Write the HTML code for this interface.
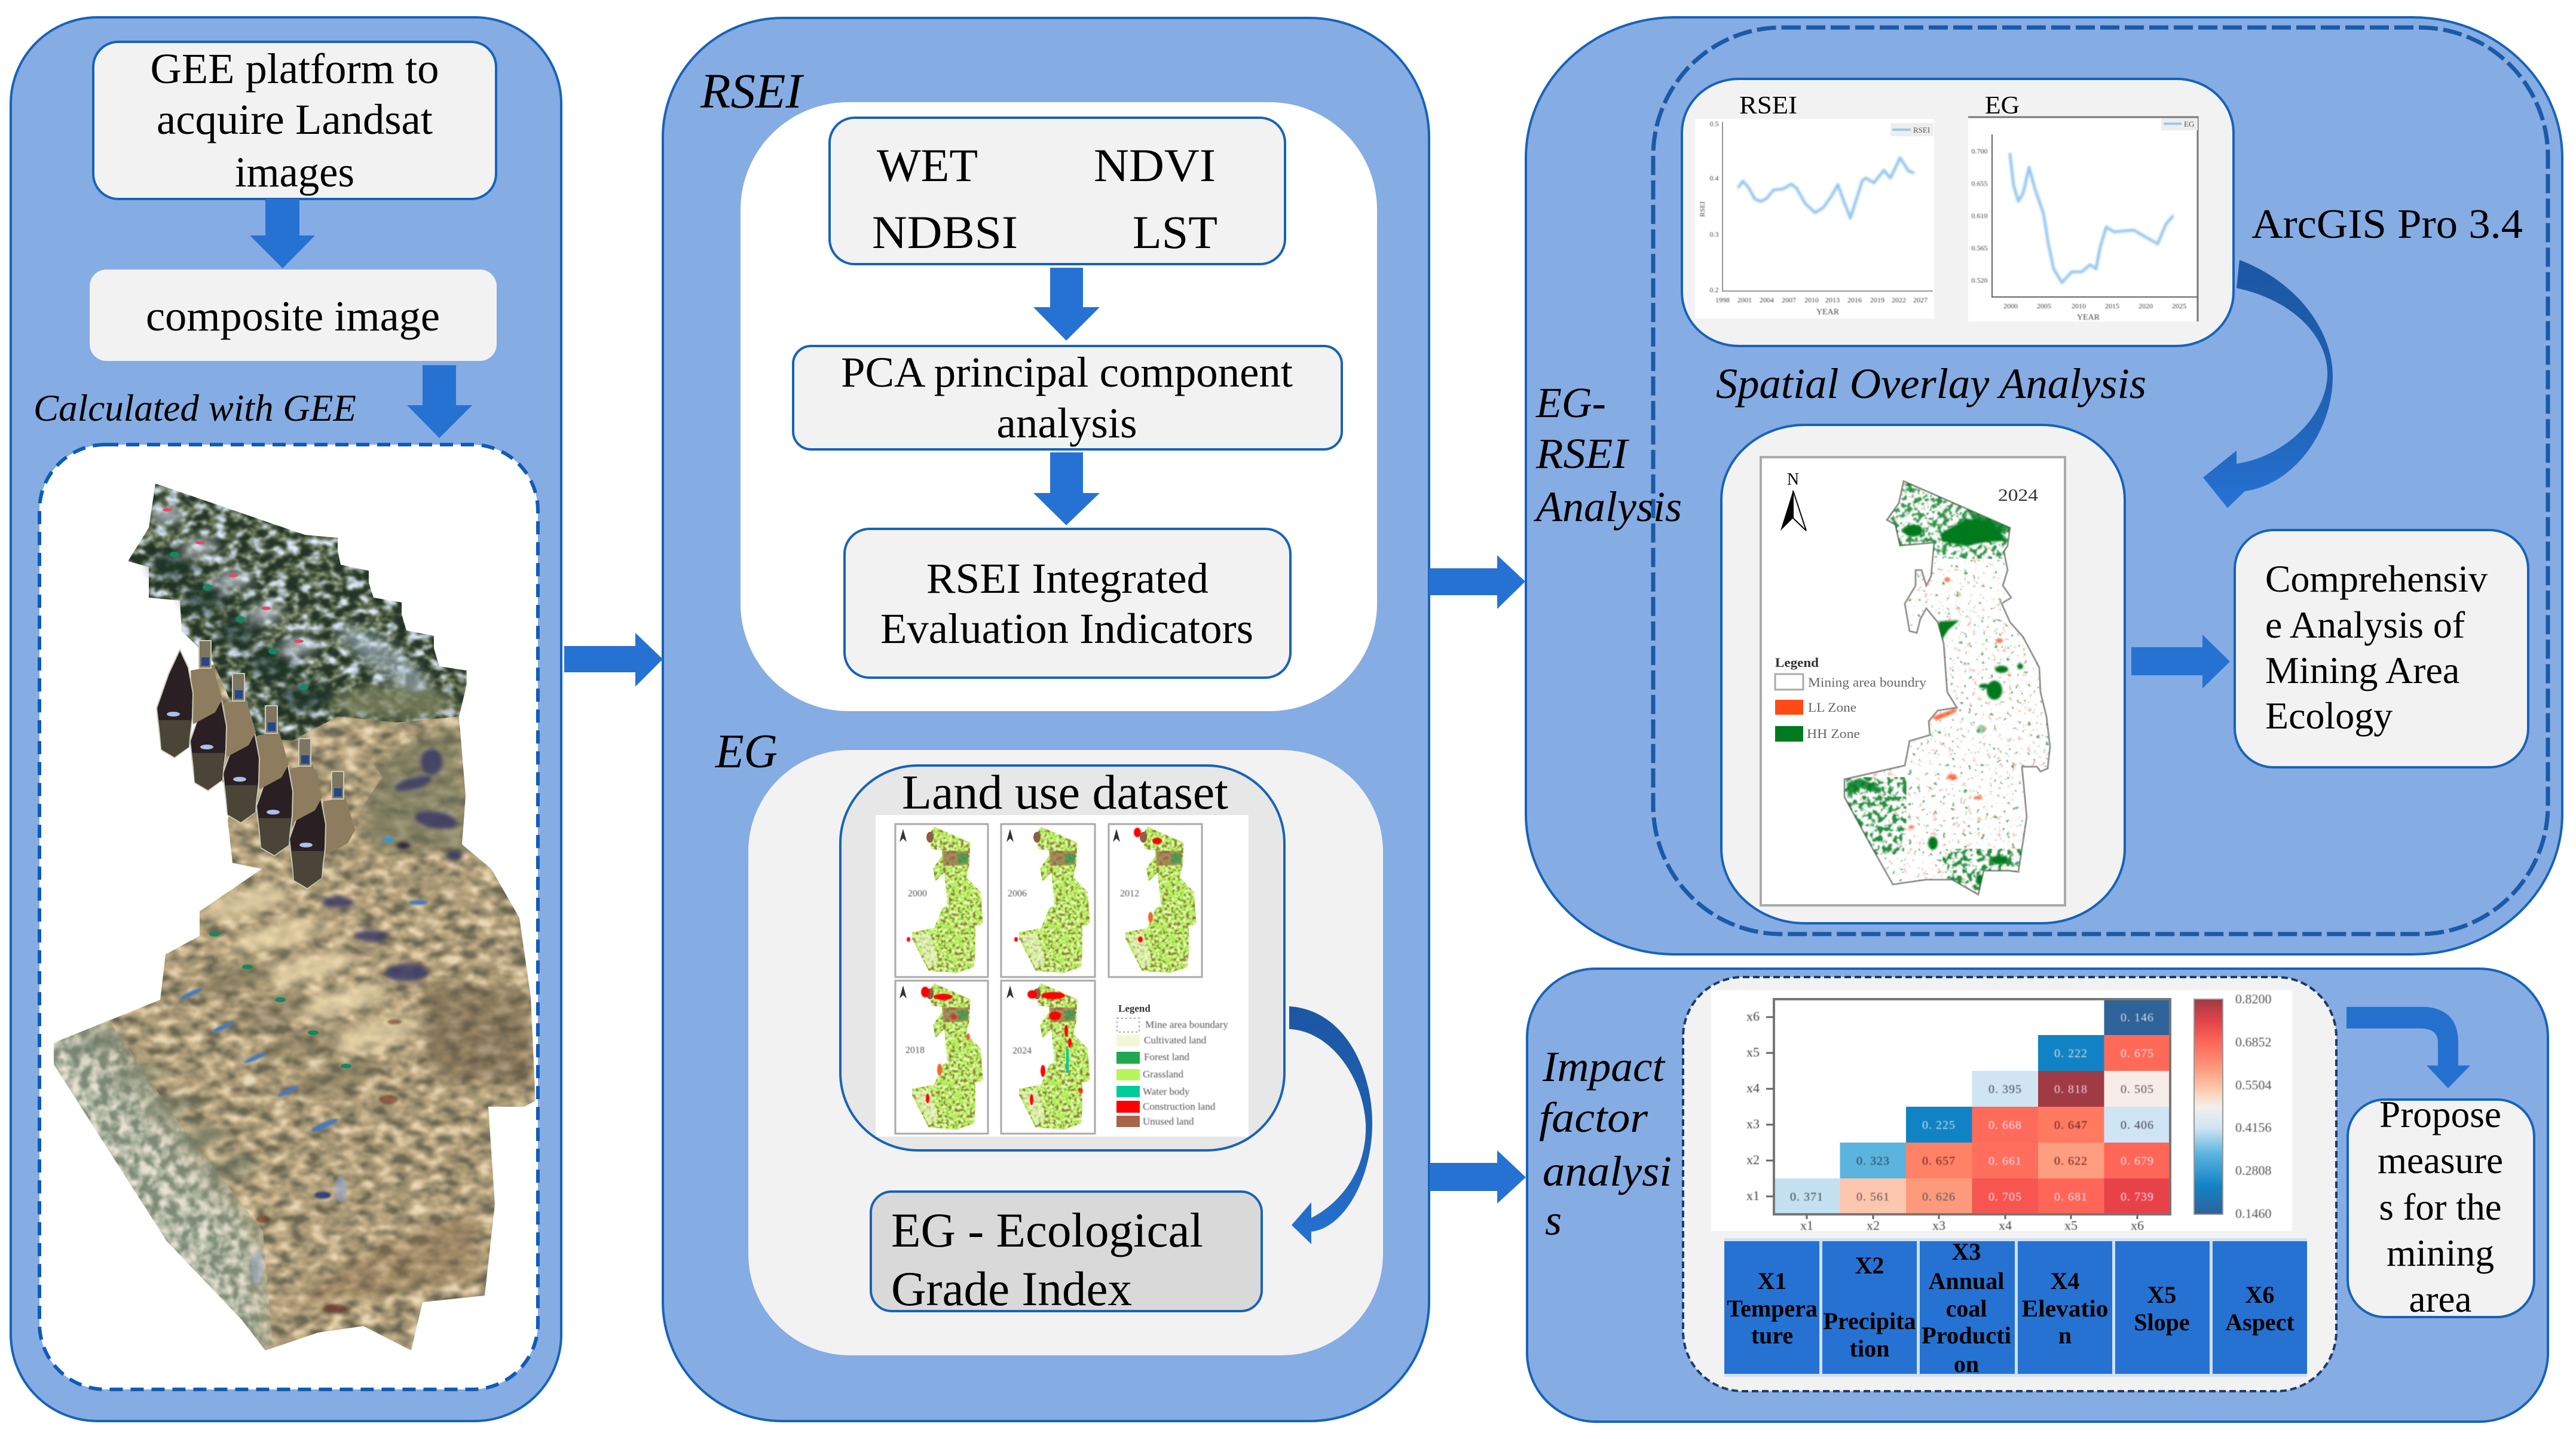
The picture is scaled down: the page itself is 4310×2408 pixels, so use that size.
<!DOCTYPE html>
<html><head><meta charset="utf-8"><title>Workflow diagram</title>
<style>
html,body{margin:0;padding:0;background:#fff}
svg{display:block}
text{font-family:"Liberation Serif","Times New Roman",serif;fill:#000}
.i{font-style:italic}
.m{text-anchor:middle}
.cell{font-size:20px;text-anchor:middle;letter-spacing:1px}
.tb{font-size:40px;font-weight:bold;text-anchor:middle}
</style></head><body>
<svg xmlns="http://www.w3.org/2000/svg" width="4310" height="2408" viewBox="0 0 4310 2408">
<defs>
<linearGradient id="g1" x1="0" y1="0" x2="0" y2="1"><stop offset="0" stop-color="#1c57a3"/><stop offset=".5" stop-color="#1f5fb0"/><stop offset="1" stop-color="#2672d2"/></linearGradient>
<linearGradient id="cb" x1="0" y1="0" x2="0" y2="1">
<stop offset="0" stop-color="#a03a45"/><stop offset=".1" stop-color="#e0444a"/><stop offset=".2" stop-color="#ff6658"/><stop offset=".33" stop-color="#fe9d80"/><stop offset=".43" stop-color="#fdd0b5"/><stop offset=".5" stop-color="#f4efec"/><stop offset=".6" stop-color="#cfe4f4"/><stop offset=".72" stop-color="#5bb4de"/><stop offset=".87" stop-color="#1183c4"/><stop offset="1" stop-color="#2f6298"/></linearGradient>

<filter id="tan" x="0" y="0" width="100%" height="100%" color-interpolation-filters="sRGB">
<feTurbulence type="fractalNoise" baseFrequency=".035 .06" numOctaves="4" seed="7"/>
<feColorMatrix type="matrix" values="1 0 0 0 0 1 0 0 0 0 1 0 0 0 0 0 0 0 0 1"/>
<feComponentTransfer>
<feFuncR type="discrete" tableValues=".42 .42 .42 .42 .42 .5 .58 .64 .7 .76 .82 .88 .92 .92 .92 .92"/>
<feFuncG type="discrete" tableValues=".4 .4 .4 .4 .4 .47 .54 .58 .63 .68 .74 .8 .86 .86 .86 .86"/>
<feFuncB type="discrete" tableValues=".32 .32 .32 .32 .32 .37 .43 .45 .48 .53 .59 .66 .74 .74 .74 .74"/>
</feComponentTransfer>
<feGaussianBlur stdDeviation="2.2"/>
<feComposite in2="SourceAlpha" operator="in"/>
</filter>
<filter id="dark" x="0" y="0" width="100%" height="100%" color-interpolation-filters="sRGB">
<feTurbulence type="fractalNoise" baseFrequency=".05 .07" numOctaves="4" seed="11"/>
<feColorMatrix type="matrix" values="1 0 0 0 0 1 0 0 0 0 1 0 0 0 0 0 0 0 0 1"/>
<feComponentTransfer>
<feFuncR type="discrete" tableValues=".14 .14 .14 .14 .14 .14 .18 .27 .42 .55 .65 .8 .91 .91 .91 .91"/>
<feFuncG type="discrete" tableValues=".2 .2 .2 .2 .2 .2 .25 .34 .46 .6 .73 .85 .93 .93 .93 .93"/>
<feFuncB type="discrete" tableValues=".16 .16 .16 .16 .16 .16 .19 .25 .34 .5 .82 .92 .97 .97 .97 .97"/>
</feComponentTransfer>
<feGaussianBlur stdDeviation="1.6"/>
<feComposite in2="SourceAlpha" operator="in"/>
</filter>
<filter id="gray" x="0" y="0" width="100%" height="100%" color-interpolation-filters="sRGB">
<feTurbulence type="fractalNoise" baseFrequency=".06" numOctaves="4" seed="3"/>
<feColorMatrix type="matrix" values="1 0 0 0 0 1 0 0 0 0 1 0 0 0 0 0 0 0 0 1"/>
<feComponentTransfer>
<feFuncR type="discrete" tableValues=".5 .5 .5 .5 .5 .5 .56 .64 .71 .78 .85 .91 .91 .91 .91 .91"/>
<feFuncG type="discrete" tableValues=".54 .54 .54 .54 .54 .54 .61 .68 .74 .78 .84 .89 .89 .89 .89 .89"/>
<feFuncB type="discrete" tableValues=".47 .47 .47 .47 .47 .47 .53 .6 .66 .71 .77 .83 .83 .83 .83 .83"/>
</feComponentTransfer>
<feGaussianBlur stdDeviation="1.6"/>
<feComposite in2="SourceAlpha" operator="in" result="t"/>
<feGaussianBlur in="SourceAlpha" stdDeviation="32" result="s"/>
<feComposite in="t" in2="s" operator="in"/>
</filter>
<filter id="soft" x="-30%" y="-30%" width="160%" height="160%"><feGaussianBlur stdDeviation="9"/></filter>
<filter id="soft3" x="-30%" y="-30%" width="160%" height="160%"><feGaussianBlur stdDeviation="3.5"/></filter>
<filter id="soft2" x="-30%" y="-30%" width="160%" height="160%"><feGaussianBlur stdDeviation="1.5"/></filter>
<filter id="txt" x="-5%" y="-5%" width="110%" height="110%"><feGaussianBlur stdDeviation=".7"/></filter>
<filter id="lu" x="0" y="0" width="100%" height="100%" color-interpolation-filters="sRGB">
<feTurbulence type="fractalNoise" baseFrequency=".2" numOctaves="2" seed="5"/>
<feColorMatrix type="matrix" values="1 0 0 0 0 1 0 0 0 0 1 0 0 0 0 0 0 0 0 1"/>
<feComponentTransfer>
<feFuncR type="discrete" tableValues=".63 .63 .63 .63 .63 .63 .56 .71 .71 .77 .92 .96 .96 .96 .96 .96"/>
<feFuncG type="discrete" tableValues=".45 .45 .45 .45 .45 .45 .82 .94 .94 .94 .96 .96 .96 .96 .96 .96"/>
<feFuncB type="discrete" tableValues=".28 .28 .28 .28 .28 .28 .31 .36 .36 .44 .75 .86 .86 .86 .86 .86"/>
</feComponentTransfer>
<feGaussianBlur stdDeviation=".7"/>
<feComposite in2="SourceAlpha" operator="in"/>
</filter>
<filter id="gs" x="0" y="0" width="100%" height="100%" color-interpolation-filters="sRGB">
<feTurbulence type="fractalNoise" baseFrequency=".14" numOctaves="2" seed="21"/>
<feColorMatrix type="matrix" values="0 0 0 0 0 0 0 0 0 .48 0 0 0 0 .12 10 0 0 0 -6.6"/>
<feGaussianBlur stdDeviation=".9"/>
</filter>
<filter id="gd" x="0" y="0" width="100%" height="100%" color-interpolation-filters="sRGB">
<feTurbulence type="fractalNoise" baseFrequency=".12" numOctaves="2" seed="9"/>
<feColorMatrix type="matrix" values="0 0 0 0 0 0 0 0 0 .48 0 0 0 0 .12 10 0 0 0 -5"/>
<feGaussianBlur stdDeviation="1"/>
</filter>
<filter id="rs" x="0" y="0" width="100%" height="100%" color-interpolation-filters="sRGB">
<feTurbulence type="fractalNoise" baseFrequency=".12" numOctaves="2" seed="33"/>
<feColorMatrix type="matrix" values="0 0 0 0 1 0 0 0 0 .42 0 0 0 0 .31 10 0 0 0 -6.6"/>
<feGaussianBlur stdDeviation=".9"/>
</filter>
<clipPath id="cm"><path d="M3185,805L3363,883L3359,913L3353,923L3359,954L3351,980L3365,1000L3349,1010L3363,1041L3385,1066L3412,1117L3414,1158L3424,1199L3430,1250L3426,1286L3414,1291L3408,1283L3383,1283L3391,1367L3377,1459L3361,1457L3319,1457L3310,1497L3266,1472L3223,1472L3167,1480L3132,1418L3086,1334L3086,1304L3187,1281L3195,1240L3229,1230L3227,1207L3242,1189L3274,1184L3258,1158L3252,1077L3242,1041L3223,1018L3213,1036L3207,1059L3195,1056L3187,1010L3205,980L3205,954L3215,954L3223,980L3231,964L3236,908L3179,913L3171,878L3157,870L3177,842Z"/></clipPath>
<clipPath id="sil"><path d="M781,1128L768,1199L779,1332L773,1413L822,1454L869,1536L888,1668L896,1842L877,1852L817,1852L828,2015L811,2168L707,2179L688,2260L608,2219L532,2230L444,2260L405,2209L279,2077L90,1781L90,1745L268,1673L277,1597L334,1566L334,1525L438,1454L389,1444L381,1372L420,1240L600,1160Z"/></clipPath>
<g id="lumap">
<path filter="url(#lu)" fill="#000" d="M64,4L126,31L124,67L119,89L143,114L147,167L134,171L134,214L132,239L104,249L56,246L28,192L28,181L65,174L78,142L87,135L82,81L67,96L63,74L78,53L78,44L61,42L54,24Z"/>
<path d="M79,45L123,45L122,68L80,70Z" fill="#94604a" opacity=".7" filter="url(#txt)"/>
<path d="M105,50L122,50L121,64L106,66Z" fill="#1fa84f" opacity=".6" filter="url(#txt)"/>
<path d="M30,188L58,182L72,228L58,243Z" fill="#f3f5d8" opacity=".55" filter="url(#txt)"/>
<ellipse cx="58" cy="22" rx="6" ry="9" fill="#8d5d44"/>
<path d="M7,30L13,8L19,30L13,24Z" fill="#333"/>
</g>
<g id="lobe">
<path d="M319,1122L356,1115L372,1170L360,1192L323,1212Z" fill="#8d7d5e"/>
<rect x="333" y="1072" width="20" height="46" fill="#7d7660" stroke="#c9c9b8" stroke-width="2"/>
<rect x="337" y="1100" width="13" height="14" fill="#26468a"/>
<path d="M301,1087L315,1117L323,1160L322,1200L316,1250L292,1268L270,1255L262,1185L282,1128Z" fill="#2a1f22" stroke="#c9c9b8" stroke-width="2"/>
<path d="M266,1205L319,1205L316,1250L292,1267L270,1254Z" fill="#4a4536"/>
<ellipse cx="290" cy="1195" rx="11" ry="4" fill="#aac0e8"/>
</g>
</defs>
<rect width="4310" height="2408" fill="#fff"/>

<!-- Panels -->
<rect x="18" y="29" width="921" height="2349" rx="145" ry="145" fill="#85ace3" stroke="#1763b8" stroke-width="4"/>
<rect x="1109" y="30" width="1282" height="2348" rx="200" ry="200" fill="#85ace3" stroke="#1763b8" stroke-width="4"/>
<rect x="2553" y="29" width="1734" height="1568" rx="250" ry="235" fill="#85ace3" stroke="#1763b8" stroke-width="4"/>
<rect x="2555" y="1621" width="1708" height="758" rx="115" ry="115" fill="#85ace3" stroke="#1763b8" stroke-width="4"/>

<!-- Panel 1 -->
<rect x="156" y="70" width="674" height="263" rx="42" fill="#f2f2f2" stroke="#1763b8" stroke-width="4"/>
<text x="493" y="139" class="m" font-size="72" textLength="483" lengthAdjust="spacingAndGlyphs">GEE platform to</text>
<text x="493" y="224" class="m" font-size="72" textLength="462" lengthAdjust="spacingAndGlyphs">acquire Landsat</text>
<text x="493" y="312" class="m" font-size="72" textLength="200" lengthAdjust="spacingAndGlyphs">images</text>
<polygon points="444,333 501,333 501,394 527,394 473,449 418,394 444,394" fill="#2672d2"/>
<rect x="150" y="451" width="681" height="153" rx="28" fill="#f2f2f2"/>
<text x="490" y="553" class="m" font-size="72" textLength="492" lengthAdjust="spacingAndGlyphs">composite image</text>
<polygon points="707,611 763,611 763,678 790,678 735,733 681,678 707,678" fill="#2672d2"/>
<text x="56" y="704" class="i" font-size="63" textLength="540" lengthAdjust="spacingAndGlyphs">Calculated with GEE</text>
<rect x="66" y="744" width="834" height="1581" rx="110" ry="110" fill="#fff" stroke="#0f5cb4" stroke-width="6" stroke-dasharray="22 13"/>

<!-- Satellite stack -->
<path filter="url(#tan)" fill="#000" d="M781,1128L768,1199L779,1332L773,1413L822,1454L869,1536L888,1668L896,1842L877,1852L817,1852L828,2015L811,2168L707,2179L688,2260L608,2219L532,2230L444,2260L405,2209L279,2077L90,1781L90,1745L268,1673L277,1597L334,1566L334,1525L438,1454L389,1444L381,1372L420,1240L600,1160Z"/>
<g clip-path="url(#sil)">
<path filter="url(#gray)" fill="#000" d="M40,1700L170,1690L300,1880L440,2060L460,2300L360,2260L220,2120L40,1820Z"/>
<g filter="url(#soft)">
<ellipse cx="170" cy="1745" rx="46" ry="16" fill="#66735f" opacity=".6" transform="rotate(-14 170 1745)"/>
<ellipse cx="225" cy="1800" rx="46" ry="16" fill="#66735f" opacity=".6" transform="rotate(-14 225 1800)"/>
<ellipse cx="280" cy="1855" rx="46" ry="16" fill="#66735f" opacity=".6" transform="rotate(-14 280 1855)"/>
<ellipse cx="335" cy="1905" rx="46" ry="16" fill="#66735f" opacity=".6" transform="rotate(-14 335 1905)"/>
<ellipse cx="385" cy="1955" rx="46" ry="16" fill="#66735f" opacity=".6" transform="rotate(-14 385 1955)"/>
<path d="M600,1290L760,1210L790,1420L620,1420Z" fill="#6e7358" opacity=".6"/>
<path d="M480,2190L800,2140L800,2030L600,2100Z" fill="#8a6b48" opacity=".4"/>
<path d="M700,1640L880,1660L890,1820L720,1800Z" fill="#6a5a42" opacity=".5"/>
<ellipse cx="411" cy="1510" rx="75" ry="20" fill="#ecd9ae" opacity=".75" transform="rotate(-15 411 1510)"/>
<ellipse cx="466" cy="1565" rx="75" ry="20" fill="#ecd9ae" opacity=".75" transform="rotate(-15 466 1565)"/>
<ellipse cx="521" cy="1620" rx="75" ry="20" fill="#ecd9ae" opacity=".75" transform="rotate(-15 521 1620)"/>
<ellipse cx="576" cy="1675" rx="75" ry="20" fill="#ecd9ae" opacity=".75" transform="rotate(-15 576 1675)"/>
<ellipse cx="631" cy="1730" rx="75" ry="20" fill="#ecd9ae" opacity=".75" transform="rotate(-15 631 1730)"/>
<ellipse cx="395" cy="1640" rx="70" ry="20" fill="#6f6750" opacity=".5" transform="rotate(-15 395 1640)"/>
<ellipse cx="450" cy="1695" rx="70" ry="20" fill="#6f6750" opacity=".5" transform="rotate(-15 450 1695)"/>
<ellipse cx="505" cy="1750" rx="70" ry="20" fill="#6f6750" opacity=".5" transform="rotate(-15 505 1750)"/>
<ellipse cx="560" cy="1805" rx="70" ry="20" fill="#6f6750" opacity=".5" transform="rotate(-15 560 1805)"/>
</g>
<g filter="url(#soft3)" fill="#3a3a68" opacity=".85">
<ellipse cx="691" cy="1311" rx="32" ry="10" transform="rotate(-15 691 1311)"/>
<ellipse cx="729" cy="1372" rx="36" ry="14" transform="rotate(10 729 1372)"/>
<ellipse cx="722" cy="1275" rx="18" ry="22"/>
<ellipse cx="680" cy="1628" rx="36" ry="15"/>
<ellipse cx="565" cy="1510" rx="26" ry="9"/>
<ellipse cx="620" cy="1566" rx="28" ry="9"/>
<ellipse cx="760" cy="1432" rx="13" ry="8"/>
<ellipse cx="675" cy="1415" rx="12" ry="6" fill="#151530"/>
</g>
<g fill="#4a78b8" filter="url(#soft2)">
<ellipse cx="320" cy="1663" rx="20" ry="4" transform="rotate(-24 320 1663)"/>
<ellipse cx="373" cy="1719" rx="20" ry="4" transform="rotate(-24 373 1719)"/>
<ellipse cx="427" cy="1770" rx="20" ry="4" transform="rotate(-24 427 1770)"/>
<ellipse cx="482" cy="1826" rx="20" ry="4" transform="rotate(-24 482 1826)"/>
<ellipse cx="543" cy="1883" rx="24" ry="5" transform="rotate(-24 543 1883)"/>
<ellipse cx="650" cy="1405" rx="9" ry="4" fill="#2a9ae0"/>
<ellipse cx="700" cy="1510" rx="16" ry="4"/>
<ellipse cx="540" cy="2000" rx="14" ry="6" fill="#30447a"/>
<ellipse cx="570" cy="1990" rx="10" ry="22" fill="#8fa8d8" opacity=".55"/>
<ellipse cx="430" cy="2120" rx="10" ry="28" fill="#a5b6d8" opacity=".5"/>
</g>
<g fill="#128a5c">
<ellipse cx="359" cy="1563" rx="9" ry="4"/><ellipse cx="414" cy="1618" rx="9" ry="4"/><ellipse cx="469" cy="1673" rx="9" ry="4"/><ellipse cx="524" cy="1728" rx="9" ry="4"/><ellipse cx="579" cy="1784" rx="9" ry="4"/>
</g>
<g fill="#6a2f20" opacity=".6" filter="url(#soft2)">
<ellipse cx="440" cy="2040" rx="12" ry="6"/><ellipse cx="660" cy="1710" rx="12" ry="4"/><ellipse cx="560" cy="2190" rx="20" ry="7"/><ellipse cx="650" cy="1840" rx="16" ry="8"/>
</g>
</g>
<path filter="url(#tan)" fill="#000" d="M320,1130L360,1110L420,1225L490,1240L570,1200L640,1300L560,1420L520,1470L450,1400L400,1340L340,1270Z"/>
<path filter="url(#dark)" fill="#000" d="M260,809L510,895L565,900L565,922L570,945L617,955L617,975L625,1000L672,1008L672,1028L680,1055L726,1064L726,1085L735,1115L781,1122L781,1145L768,1199L663,1209L565,1199L488,1240L411,1230L356,1107L304,1056L301,1005L249,1000L249,949L214,939L249,883Z"/>
<g filter="url(#soft)">
<ellipse cx="660" cy="1175" rx="105" ry="28" fill="#7a7f5c" opacity=".8"/>
<ellipse cx="290" cy="945" rx="40" ry="26" fill="#1f3226" opacity=".7"/>
<ellipse cx="345" cy="1000" rx="40" ry="26" fill="#1f3226" opacity=".7"/>
<ellipse cx="400" cy="1055" rx="40" ry="26" fill="#1f3226" opacity=".7"/>
<ellipse cx="455" cy="1110" rx="40" ry="26" fill="#1f3226" opacity=".7"/>
<ellipse cx="510" cy="1165" rx="45" ry="26" fill="#1f3226" opacity=".7"/>
<ellipse cx="280" cy="862" rx="28" ry="14" fill="#dfe6f4" opacity=".7"/>
<ellipse cx="335" cy="915" rx="28" ry="14" fill="#dfe6f4" opacity=".7"/>
<ellipse cx="390" cy="970" rx="28" ry="14" fill="#dfe6f4" opacity=".7"/>
<ellipse cx="445" cy="1025" rx="28" ry="14" fill="#dfe6f4" opacity=".7"/>
<ellipse cx="500" cy="1080" rx="28" ry="14" fill="#dfe6f4" opacity=".7"/>
<ellipse cx="640" cy="1100" rx="90" ry="24" fill="#c2d2ea" opacity=".5" transform="rotate(35 640 1100)"/>
</g>
<g fill="#e24a6c">
<ellipse cx="280" cy="853" rx="8" ry="3"/><ellipse cx="335" cy="908" rx="8" ry="3"/><ellipse cx="390" cy="963" rx="8" ry="3"/><ellipse cx="445" cy="1018" rx="8" ry="3"/><ellipse cx="500" cy="1073" rx="8" ry="3"/>
</g>
<g fill="#0f8a62">
<ellipse cx="292" cy="928" rx="8" ry="5"/><ellipse cx="347" cy="983" rx="8" ry="5"/><ellipse cx="402" cy="1036" rx="8" ry="5"/><ellipse cx="457" cy="1090" rx="8" ry="5"/><ellipse cx="508" cy="1150" rx="8" ry="5"/>
</g>
<use href="#lobe" x="222" y="219"/>
<use href="#lobe" x="167" y="164"/>
<use href="#lobe" x="111" y="109"/>
<use href="#lobe" x="56" y="55"/>
<use href="#lobe" x="0" y="0"/>
<polygon points="944,1081 1063,1081 1063,1059 1109,1103 1063,1149 1063,1125 944,1125" fill="#2672d2"/>

<!-- Panel 2 -->
<text x="1172" y="180" class="i" font-size="83" textLength="170" lengthAdjust="spacingAndGlyphs">RSEI</text>
<rect x="1239" y="171" width="1065" height="1019" rx="180" fill="#fff"/>
<rect x="1388" y="197" width="762" height="245" rx="42" fill="#f2f2f2" stroke="#1763b8" stroke-width="4"/>
<text x="1467" y="303" font-size="78" textLength="169" lengthAdjust="spacingAndGlyphs">WET</text>
<text x="1830" y="303" font-size="78" textLength="204" lengthAdjust="spacingAndGlyphs">NDVI</text>
<text x="1459" y="415" font-size="78" textLength="244" lengthAdjust="spacingAndGlyphs">NDBSI</text>
<text x="1895" y="415" font-size="78" textLength="142" lengthAdjust="spacingAndGlyphs">LST</text>
<polygon points="1757,448 1812,448 1812,514 1840,514 1784,570 1729,514 1757,514" fill="#2672d2"/>
<rect x="1327" y="579" width="918" height="173" rx="30" fill="#f2f2f2" stroke="#1763b8" stroke-width="4"/>
<text x="1785" y="647" class="m" font-size="72" textLength="756" lengthAdjust="spacingAndGlyphs">PCA principal component</text>
<text x="1785" y="732" class="m" font-size="72" textLength="235" lengthAdjust="spacingAndGlyphs">analysis</text>
<polygon points="1757,757 1812,757 1812,825 1840,825 1784,879 1729,825 1757,825" fill="#2672d2"/>
<rect x="1413" y="885" width="746" height="249" rx="42" fill="#f2f2f2" stroke="#1763b8" stroke-width="4"/>
<text x="1786" y="992" class="m" font-size="72" textLength="472" lengthAdjust="spacingAndGlyphs">RSEI Integrated</text>
<text x="1785" y="1076" class="m" font-size="72" textLength="624" lengthAdjust="spacingAndGlyphs">Evaluation Indicators</text>
<polygon points="2391,951 2505,951 2505,929 2552,973 2505,1019 2505,996 2391,996" fill="#2672d2"/>

<text x="1197" y="1284" class="i" font-size="80" textLength="104" lengthAdjust="spacingAndGlyphs">EG</text>
<rect x="1252" y="1255" width="1062" height="1013" rx="170" fill="#f2f2f2"/>
<rect x="1406" y="1281" width="743" height="644" rx="130" fill="#e7e7e7" stroke="#1763b8" stroke-width="4"/>
<text x="1782" y="1353" class="m" font-size="82" textLength="546" lengthAdjust="spacingAndGlyphs">Land use dataset</text>
<rect x="1465" y="1364" width="624" height="538" fill="#fff"/>
<g fill="none" stroke="#aaa" stroke-width="3">
<rect x="1498" y="1379" width="155" height="256"/><rect x="1675" y="1379" width="157" height="256"/><rect x="1855" y="1379" width="156" height="256"/><rect x="1498" y="1641" width="155" height="256"/><rect x="1675" y="1641" width="157" height="256"/>
</g>
<use href="#lumap" x="1498" y="1379"/>
<use href="#lumap" x="1677" y="1379"/>
<use href="#lumap" x="1855" y="1379"/>
<use href="#lumap" x="1498" y="1641"/>
<use href="#lumap" x="1677" y="1641"/>
<g fill="#f00" filter="url(#txt)">
<ellipse cx="1520" cy="1572" rx="3" ry="4"/><ellipse cx="1700" cy="1572" rx="3" ry="4"/>
<ellipse cx="1903" cy="1393" rx="6" ry="8"/><ellipse cx="1936" cy="1407" rx="8" ry="5"/><ellipse cx="1908" cy="1572" rx="4" ry="5"/><ellipse cx="1925" cy="1535" rx="4" ry="9" fill="#f0662a"/>
<ellipse cx="1548" cy="1660" rx="7" ry="9"/><ellipse cx="1578" cy="1668" rx="16" ry="5"/><ellipse cx="1552" cy="1838" rx="3" ry="8"/><ellipse cx="1572" cy="1790" rx="4" ry="10" fill="#f0662a"/><ellipse cx="1596" cy="1702" rx="5" ry="4" opacity=".6"/><ellipse cx="1620" cy="1735" rx="3" ry="6" opacity=".6"/>
<ellipse cx="1727" cy="1664" rx="8" ry="7"/><ellipse cx="1762" cy="1666" rx="20" ry="6"/><ellipse cx="1765" cy="1700" rx="10" ry="7"/><ellipse cx="1784" cy="1725" rx="3" ry="10"/><ellipse cx="1790" cy="1745" rx="3" ry="8"/><ellipse cx="1726" cy="1840" rx="3" ry="9"/><ellipse cx="1745" cy="1792" rx="4" ry="10"/><ellipse cx="1808" cy="1825" rx="4" ry="5" opacity=".7"/>
</g>
<rect x="1784" y="1755" width="4" height="40" fill="#00c89a"/>
<g font-size="16" style="text-anchor:middle" filter="url(#txt)">
<text x="1535" y="1500" style="fill:#555">2000</text><text x="1702" y="1500" style="fill:#555">2006</text><text x="1890" y="1500" style="fill:#555">2012</text><text x="1531" y="1762" style="fill:#555">2018</text><text x="1710" y="1763" style="fill:#555">2024</text>
</g>
<text x="1871" y="1693" font-size="17" font-weight="bold" style="fill:#333">Legend</text>
<rect x="1869" y="1704" width="37" height="23" fill="#fff" stroke="#aaa" stroke-width="2" stroke-dasharray="3 4"/>
<rect x="1868" y="1732" width="39" height="19" fill="#f4f6d8"/>
<rect x="1868" y="1760" width="39" height="20" fill="#1fa84f"/>
<rect x="1868" y="1789" width="39" height="19" fill="#b6f55c"/>
<rect x="1868" y="1817" width="39" height="19" fill="#00cc9a"/>
<rect x="1868" y="1842" width="39" height="20" fill="#f00"/>
<rect x="1868" y="1867" width="39" height="19" fill="#a8644a"/>
<g font-size="17" filter="url(#txt)">
<text x="1916" y="1720" style="fill:#555" textLength="139" lengthAdjust="spacingAndGlyphs">Mine area boundary</text>
<text x="1914" y="1746" style="fill:#555">Cultivated land</text>
<text x="1914" y="1774" style="fill:#555">Forest land</text>
<text x="1912" y="1803" style="fill:#555">Grassland</text>
<text x="1912" y="1832" style="fill:#555">Water body</text>
<text x="1912" y="1857" style="fill:#555">Construction land</text>
<text x="1912" y="1882" style="fill:#555">Unused land</text>
</g>
<path d="M2157,1684C2250,1690 2296,1790 2296,1880C2296,1970 2250,2055 2194,2061L2194,2082L2161,2050L2194,2012L2194,2038C2240,2015 2288,1960 2285,1880C2280,1800 2225,1725 2157,1722Z" fill="url(#g1)"/>
<rect x="1457" y="1994" width="654" height="200" rx="35" fill="#d9d9d9" stroke="#1763b8" stroke-width="4"/>
<text x="1491" y="2086" font-size="82" textLength="522" lengthAdjust="spacingAndGlyphs">EG - Ecological</text>
<text x="1491" y="2184" font-size="82" textLength="403" lengthAdjust="spacingAndGlyphs">Grade Index</text>
<polygon points="2392,1946 2505,1946 2505,1925 2553,1970 2505,2014 2505,1993 2392,1993" fill="#2672d2"/>

<!-- Panel 3 -->
<rect x="2766" y="46" width="1497" height="1517" rx="215" ry="215" fill="none" stroke="#1a5aa8" stroke-width="7" stroke-dasharray="32 9"/>
<rect x="2814" y="132" width="923" height="447" rx="95" ry="90" fill="#f2f2f2" stroke="#1763b8" stroke-width="4"/>
<text x="2910" y="190" font-size="42" textLength="97" lengthAdjust="spacingAndGlyphs">RSEI</text>
<text x="3321" y="190" font-size="42" textLength="58" lengthAdjust="spacingAndGlyphs">EG</text>
<rect x="2836" y="199" width="400" height="334" fill="#fff"/>
<rect x="3293" y="196" width="383" height="342" fill="#fff"/>
<path d="M3293,196H3677V538" fill="none" stroke="#777" stroke-width="3"/>
<path d="M2882,204V487H3234" fill="none" stroke="#999" stroke-width="2"/>
<path d="M3333,225V497H3677" fill="none" stroke="#666" stroke-width="2"/>
<g filter="url(#soft2)">
<polyline fill="none" stroke="#98c8ee" stroke-width="5" stroke-linejoin="round" stroke-linecap="round" points="2909,313 2916,303 2925,313 2936,333 2946,337 2956,332 2967,318 2984,316 2997,308 3006,315 3020,340 3037,356 3051,347 3065,327 3075,309 3085,337 3096,365 3107,330 3116,302 3122,298 3135,306 3152,285 3163,298 3179,264 3193,286 3201,289"/>
<polyline fill="none" stroke="#98c8ee" stroke-width="5" stroke-linejoin="round" stroke-linecap="round" points="3363,258 3369,310 3377,337 3385,323 3395,280 3405,317 3419,357 3427,407 3436,450 3450,473 3466,455 3483,455 3497,443 3507,450 3514,413 3524,380 3537,388 3570,385 3587,395 3610,408 3624,375 3635,362"/>
</g>
<rect x="3163" y="206" width="72" height="22" fill="#eee"/>
<line x1="3166" y1="217" x2="3197" y2="217" stroke="#9cc9ec" stroke-width="4"/>
<text x="3201" y="222" font-size="13" style="fill:#555">RSEI</text>
<rect x="3616" y="198" width="61" height="20" fill="#eee"/>
<line x1="3620" y1="207" x2="3650" y2="207" stroke="#9cc9ec" stroke-width="4"/>
<text x="3654" y="212" font-size="13" style="fill:#555">EG</text>
<g font-size="12" style="text-anchor:middle" filter="url(#txt)">
<text x="2868" y="211" style="fill:#444">0.5</text><text x="2868" y="302" style="fill:#444">0.4</text><text x="2868" y="396" style="fill:#444">0.3</text><text x="2868" y="489" style="fill:#444">0.2</text>
<text x="2882" y="506" style="fill:#444">1998</text><text x="2919" y="506" style="fill:#444">2001</text><text x="2956" y="506" style="fill:#444">2004</text><text x="2993" y="506" style="fill:#444">2007</text><text x="3031" y="506" style="fill:#444">2010</text><text x="3066" y="506" style="fill:#444">2013</text><text x="3103" y="506" style="fill:#444">2016</text><text x="3141" y="506" style="fill:#444">2019</text><text x="3177" y="506" style="fill:#444">2022</text><text x="3213" y="506" style="fill:#444">2027</text>
<text x="3058" y="526" font-size="14" style="fill:#444">YEAR</text>
<text x="3312" y="257" style="fill:#444">0.700</text><text x="3312" y="311" style="fill:#444">0.655</text><text x="3312" y="365" style="fill:#444">0.610</text><text x="3312" y="419" style="fill:#444">0.565</text><text x="3312" y="473" style="fill:#444">0.520</text>
<text x="3364" y="516" style="fill:#444">2000</text><text x="3420" y="516" style="fill:#444">2005</text><text x="3478" y="516" style="fill:#444">2010</text><text x="3534" y="516" style="fill:#444">2015</text><text x="3590" y="516" style="fill:#444">2020</text><text x="3646" y="516" style="fill:#444">2025</text>
<text x="3494" y="535" font-size="14" style="fill:#444">YEAR</text>
<text transform="translate(2852,350) rotate(-90)" style="fill:#444">RSEI</text>
</g>
<text x="3767" y="398" font-size="70" textLength="454" lengthAdjust="spacingAndGlyphs">ArcGIS Pro 3.4</text>
<text x="2871" y="666" class="i" font-size="72" textLength="720" lengthAdjust="spacingAndGlyphs">Spatial Overlay Analysis</text>
<text x="2570" y="698" class="i" font-size="72" textLength="117" lengthAdjust="spacingAndGlyphs">EG-</text>
<text x="2570" y="783" class="i" font-size="72" textLength="153" lengthAdjust="spacingAndGlyphs">RSEI</text>
<text x="2570" y="872" class="i" font-size="72" textLength="244" lengthAdjust="spacingAndGlyphs">Analysis</text>
<path d="M3747,435C3840,470 3903,550 3903,630C3903,720 3840,810 3756,822L3727,850L3686,799L3742,754L3742,776C3820,765 3890,700 3894,630C3897,560 3830,500 3742,482Z" fill="url(#g1)"/>
<rect x="2880" y="711" width="675" height="834" rx="140" ry="125" fill="#f2f2f2" stroke="#1763b8" stroke-width="4"/>
<rect x="2946" y="765" width="509" height="750" fill="#fff" stroke="#aaa" stroke-width="4"/>
<text x="3000" y="811" class="m" font-size="28">N</text>
<polygon points="3000,821 2979,888 3000,867" fill="#000"/>
<polygon points="3000,821 3022,888 3000,867" fill="#fff" stroke="#000" stroke-width="2"/>
<text x="3343" y="838" font-size="28" textLength="67" lengthAdjust="spacingAndGlyphs" style="fill:#333">2024</text>
<path d="M3185,805L3363,883L3359,913L3353,923L3359,954L3351,980L3365,1000L3349,1010L3363,1041L3385,1066L3412,1117L3414,1158L3424,1199L3430,1250L3426,1286L3414,1291L3408,1283L3383,1283L3391,1367L3377,1459L3361,1457L3319,1457L3310,1497L3266,1472L3223,1472L3167,1480L3132,1418L3086,1334L3086,1304L3187,1281L3195,1240L3229,1230L3227,1207L3242,1189L3274,1184L3258,1158L3252,1077L3242,1041L3223,1018L3213,1036L3207,1059L3195,1056L3187,1010L3205,980L3205,954L3215,954L3223,980L3231,964L3236,908L3179,913L3171,878L3157,870L3177,842Z" fill="#fff" stroke="#999" stroke-width="3"/>
<g clip-path="url(#cm)">
<rect x="3080" y="800" width="355" height="700" filter="url(#gs)" opacity=".6"/>
<rect x="3080" y="800" width="355" height="700" filter="url(#rs)" opacity=".4"/>
<rect x="3150" y="805" width="215" height="130" filter="url(#gd)" opacity=".8"/>
<rect x="3080" y="1300" width="110" height="130" filter="url(#gd)" opacity=".85"/>
<rect x="3250" y="1420" width="140" height="70" filter="url(#gd)" opacity=".85"/>
<g fill="#007a1e" filter="url(#soft2)">
<path d="M3246,893L3290,868L3330,872L3358,905L3320,907L3290,914L3250,906Z"/>
<path d="M3290,852L3360,880L3355,895L3300,868Z" opacity=".85"/>
<ellipse cx="3201" cy="888" rx="16" ry="10"/>
<path d="M3244,1040L3278,1038L3260,1054L3248,1072L3242,1060Z"/>
<ellipse cx="3337" cy="1155" rx="13" ry="16"/><ellipse cx="3320" cy="1148" rx="9" ry="4"/>
<ellipse cx="3349" cy="1120" rx="11" ry="6"/><ellipse cx="3380" cy="1115" rx="5" ry="5"/>
<ellipse cx="3234" cy="1411" rx="8" ry="11"/>
<ellipse cx="3345" cy="1439" rx="16" ry="7"/><ellipse cx="3312" cy="1472" rx="6" ry="9"/>
<path d="M3090,1310L3112,1302L3150,1320L3145,1328L3110,1318L3092,1336Z" opacity=".85"/>
<ellipse cx="3315" cy="1220" rx="7" ry="7" opacity=".4"/>
</g>
<g fill="#ff4a17" opacity=".75" filter="url(#soft2)">
<path d="M3232,1200L3275,1184L3272,1192L3240,1206Z"/>
<ellipse cx="3266" cy="1300" rx="8" ry="5"/><ellipse cx="3310" cy="1335" rx="7" ry="3"/><ellipse cx="3198" cy="1384" rx="5" ry="3"/><ellipse cx="3258" cy="970" rx="5" ry="4"/><ellipse cx="3345" cy="1072" rx="6" ry="4"/>
</g>
</g>
<text x="2970" y="1116" font-size="22" font-weight="bold" textLength="73" lengthAdjust="spacingAndGlyphs" style="fill:#333">Legend</text>
<rect x="2970" y="1128" width="47" height="26" fill="#fff" stroke="#aaa" stroke-width="3"/>
<rect x="2970" y="1171" width="47" height="25" fill="#ff4a17"/>
<rect x="2970" y="1215" width="47" height="26" fill="#007a1e"/>
<text x="3025" y="1149" font-size="22" textLength="198" lengthAdjust="spacingAndGlyphs" style="fill:#666">Mining area boundry</text>
<text x="3025" y="1191" font-size="22" textLength="81" lengthAdjust="spacingAndGlyphs" style="fill:#666">LL Zone</text>
<text x="3023" y="1235" font-size="22" textLength="89" lengthAdjust="spacingAndGlyphs" style="fill:#666">HH Zone</text>
<polygon points="3566,1083 3685,1083 3685,1062 3731,1107 3685,1152 3685,1130 3566,1130" fill="#2672d2"/>
<rect x="3739" y="887" width="491" height="397" rx="65" fill="#f2f2f2" stroke="#1763b8" stroke-width="4"/>
<text x="3790" y="990" font-size="64" textLength="372" lengthAdjust="spacingAndGlyphs">Comprehensiv</text>
<text x="3790" y="1067" font-size="64">e Analysis of</text>
<text x="3790" y="1143" font-size="64">Mining Area</text>
<text x="3790" y="1219" font-size="64">Ecology</text>

<!-- Panel 4 -->
<text x="2581" y="1809" class="i" font-size="72" textLength="204" lengthAdjust="spacingAndGlyphs">Impact</text>
<text x="2575" y="1894" class="i" font-size="72" textLength="182" lengthAdjust="spacingAndGlyphs">factor</text>
<text x="2581" y="1984" class="i" font-size="72" textLength="216" lengthAdjust="spacingAndGlyphs">analysi</text>
<text x="2585" y="2066" class="i" font-size="72">s</text>
<rect x="2816" y="1635" width="1093" height="693" rx="100" fill="#f2f2f2" stroke="#1f3a66" stroke-width="4" stroke-dasharray="11 6"/>
<rect x="2863" y="1657" width="972" height="403" fill="#fff"/>
<g>
<rect x="2968" y="1972" width="111" height="60" fill="#c3e1f0"/><rect x="3078.5" y="1972" width="111" height="60" fill="#fdc6ae"/><rect x="3189" y="1972" width="111" height="60" fill="#fd9a7c"/><rect x="3299.5" y="1972" width="111" height="60" fill="#f6564f"/><rect x="3410" y="1972" width="111" height="60" fill="#ff6658"/><rect x="3520.5" y="1972" width="111" height="60" fill="#e84249"/>
<rect x="3078.5" y="1912" width="111" height="60" fill="#5bb4de"/><rect x="3189" y="1912" width="111" height="60" fill="#ff8266"/><rect x="3299.5" y="1912" width="111" height="60" fill="#ff6e5c"/><rect x="3410" y="1912" width="111" height="60" fill="#ff9d80"/><rect x="3520.5" y="1912" width="111" height="60" fill="#ff6658"/>
<rect x="3189" y="1852" width="111" height="60" fill="#1183c4"/><rect x="3299.5" y="1852" width="111" height="60" fill="#ff6b5a"/><rect x="3410" y="1852" width="111" height="60" fill="#ff7a60"/><rect x="3520.5" y="1852" width="111" height="60" fill="#cfe4f4"/>
<rect x="3299.5" y="1792" width="111" height="60" fill="#cfe5f4"/><rect x="3410" y="1792" width="111" height="60" fill="#a03a45"/><rect x="3520.5" y="1792" width="111" height="60" fill="#f7ece8"/>
<rect x="3410" y="1732" width="111" height="60" fill="#1183c4"/><rect x="3520.5" y="1732" width="111" height="60" fill="#ff6a58"/>
<rect x="3520.5" y="1672" width="111" height="60" fill="#2f6298"/>
</g>
<rect x="2968" y="1672" width="663" height="360" fill="none" stroke="#777" stroke-width="4"/>
<g filter="url(#txt)">
<text x="3023" y="2009" class="cell" style="fill:#444">0. 371</text><text x="3134" y="2009" class="cell" style="fill:#555">0. 561</text><text x="3244" y="2009" class="cell" style="fill:#555">0. 626</text><text x="3355" y="2009" class="cell" style="fill:#fde">0. 705</text><text x="3465" y="2009" class="cell" style="fill:#fde">0. 681</text><text x="3576" y="2009" class="cell" style="fill:#fde">0. 739</text>
<text x="3134" y="1949" class="cell" style="fill:#245">0. 323</text><text x="3244" y="1949" class="cell" style="fill:#622">0. 657</text><text x="3355" y="1949" class="cell" style="fill:#fde">0. 661</text><text x="3465" y="1949" class="cell" style="fill:#622">0. 622</text><text x="3576" y="1949" class="cell" style="fill:#fde">0. 679</text>
<text x="3244" y="1889" class="cell" style="fill:#cde">0. 225</text><text x="3355" y="1889" class="cell" style="fill:#fde">0. 668</text><text x="3465" y="1889" class="cell" style="fill:#622">0. 647</text><text x="3576" y="1889" class="cell" style="fill:#445">0. 406</text>
<text x="3355" y="1829" class="cell" style="fill:#445">0. 395</text><text x="3465" y="1829" class="cell" style="fill:#ecd">0. 818</text><text x="3576" y="1829" class="cell" style="fill:#555">0. 505</text>
<text x="3465" y="1769" class="cell" style="fill:#cde">0. 222</text><text x="3576" y="1769" class="cell" style="fill:#fde">0. 675</text>
<text x="3576" y="1709" class="cell" style="fill:#cde">0. 146</text>
</g>
<g font-size="22" style="text-anchor:middle" filter="url(#txt)">
<text x="2933" y="2008" style="fill:#444">x1</text><text x="2933" y="1948" style="fill:#444">x2</text><text x="2933" y="1888" style="fill:#444">x3</text><text x="2933" y="1828" style="fill:#444">x4</text><text x="2933" y="1768" style="fill:#444">x5</text><text x="2933" y="1708" style="fill:#444">x6</text>
<text x="3023" y="2058" style="fill:#444">x1</text><text x="3134" y="2058" style="fill:#444">x2</text><text x="3244" y="2058" style="fill:#444">x3</text><text x="3355" y="2058" style="fill:#444">x4</text><text x="3465" y="2058" style="fill:#444">x5</text><text x="3576" y="2058" style="fill:#444">x6</text>
</g>
<g stroke="#666" stroke-width="3"><path d="M2955,2002H2968M2955,1942H2968M2955,1882H2968M2955,1822H2968M2955,1762H2968M2955,1702H2968M3023,2032V2040M3134,2032V2040M3244,2032V2040M3355,2032V2040M3465,2032V2040M3576,2032V2040"/></g>
<rect x="3671" y="1672" width="48" height="360" fill="url(#cb)" stroke="#999" stroke-width="2"/>
<g font-size="22" filter="url(#txt)"><text x="3740" y="1679" style="fill:#555">0.8200</text><text x="3740" y="1751" style="fill:#555">0.6852</text><text x="3740" y="1823" style="fill:#555">0.5504</text><text x="3740" y="1894" style="fill:#555">0.4156</text><text x="3740" y="1966" style="fill:#555">0.2808</text><text x="3740" y="2038" style="fill:#555">0.1460</text></g>
<rect x="2885" y="2072" width="975" height="232" fill="#cfe0f6"/>
<rect x="2885" y="2077" width="159" height="222" fill="#2672d2"/><rect x="3049" y="2077" width="158" height="222" fill="#2672d2"/><rect x="3212" y="2077" width="159" height="222" fill="#2672d2"/><rect x="3376" y="2077" width="158" height="222" fill="#2672d2"/><rect x="3539" y="2077" width="158" height="222" fill="#2672d2"/><rect x="3702" y="2077" width="158" height="222" fill="#2672d2"/>
<text x="2965" y="2157" class="tb">X1</text><text x="2965" y="2203" class="tb">Tempera</text><text x="2965" y="2248" class="tb">ture</text>
<text x="3128" y="2131" class="tb">X2</text><text x="3128" y="2224" class="tb" textLength="155" lengthAdjust="spacingAndGlyphs">Precipita</text><text x="3128" y="2270" class="tb">tion</text>
<text x="3290" y="2108" class="tb">X3</text><text x="3290" y="2157" class="tb">Annual</text><text x="3290" y="2203" class="tb">coal</text><text x="3290" y="2248" class="tb" textLength="150" lengthAdjust="spacingAndGlyphs">Producti</text><text x="3290" y="2296" class="tb">on</text>
<text x="3455" y="2157" class="tb">X4</text><text x="3455" y="2203" class="tb" textLength="145" lengthAdjust="spacingAndGlyphs">Elevatio</text><text x="3455" y="2248" class="tb">n</text>
<text x="3617" y="2180" class="tb">X5</text><text x="3617" y="2226" class="tb">Slope</text>
<text x="3781" y="2180" class="tb">X6</text><text x="3781" y="2226" class="tb">Aspect</text>
<path d="M3926,1685L4060,1685Q4113,1690 4113,1745L4113,1783L4133,1783L4096,1821L4060,1783L4079,1783L4079,1745Q4079,1721 4050,1721L3926,1721Z" fill="#2570cf"/>
<rect x="3928" y="1840" width="312" height="364" rx="62" fill="#f2f2f2" stroke="#1763b8" stroke-width="4"/>
<text x="4083" y="1886" class="m" font-size="64" textLength="204" lengthAdjust="spacingAndGlyphs">Propose</text>
<text x="4083" y="1963" class="m" font-size="64" textLength="210" lengthAdjust="spacingAndGlyphs">measure</text>
<text x="4083" y="2041" class="m" font-size="64" textLength="205" lengthAdjust="spacingAndGlyphs">s for the</text>
<text x="4083" y="2118" class="m" font-size="64" textLength="180" lengthAdjust="spacingAndGlyphs">mining</text>
<text x="4083" y="2195" class="m" font-size="64" textLength="105" lengthAdjust="spacingAndGlyphs">area</text>
</svg>
</body></html>
